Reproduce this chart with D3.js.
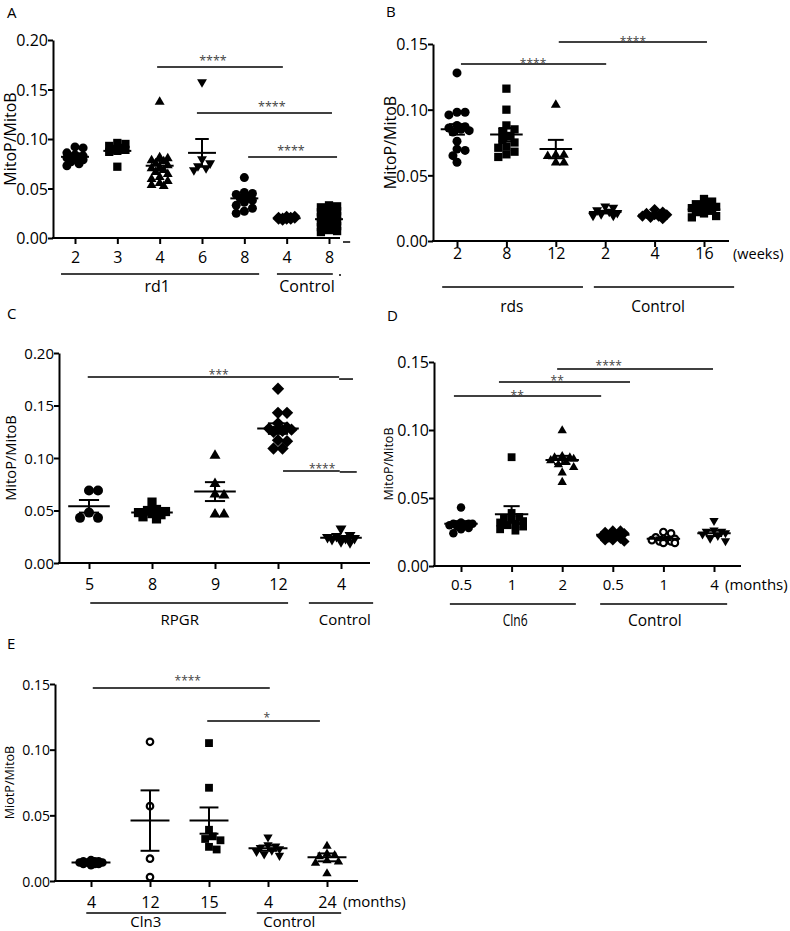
<!DOCTYPE html>
<html><head><meta charset="utf-8">
<script src="https://cdn.jsdelivr.net/npm/d3@7"></script>
<style>body{margin:0;background:#fff}svg{display:block}text{font-family:"Open Sans",sans-serif}</style>
</head><body><svg id="c" width="790" height="931"></svg>
<script>
// ---------------- DATA ----------------
const A_categories = ["2","3","4","6","8","4","8"];
const A_symbols = ["circle","square","triangle","triangleDown","circle","diamond","square"];
const A_values = [
  [0.092,0.091,0.086,0.084,0.083,0.082,0.082,0.081,0.080,0.079,0.077,0.075,0.073],
  [0.096,0.095,0.093,0.091,0.090,0.089,0.088,0.087,0.072],
  [0.138,0.082,0.081,0.079,0.078,0.076,0.074,0.072,0.071,0.069,0.067,0.065,0.062,0.060,0.058,0.056,0.054,0.053],
  [0.157,0.079,0.075,0.072,0.070,0.068],
  [0.061,0.046,0.045,0.044,0.042,0.040,0.038,0.036,0.033,0.030,0.027,0.025],
  [0.022,0.022,0.021,0.021,0.020,0.020,0.020,0.019,0.019,0.019,0.018],
  [0.033,0.032,0.031,0.030,0.029,0.028,0.027,0.026,0.025,0.024,0.023,0.022,0.021,0.020,0.019,0.018,0.017,0.016,0.015,0.014,0.013,0.012,0.011,0.010,0.009,0.008,0.007,0.006]
];
const A_means = [0.082,0.088,0.073,0.086,0.040,0.020,0.019];
const A_sems  = [0.002,0.002,0.005,0.014,0.003,0.0005,0.001];
const A_yTicks = [0,0.05,0.10,0.15,0.20];
const A_groups = ["rd1","Control"];
const A_stars = ["****","****","****"];

const B_categories = ["2","8","12","2","4","16"];
const B_symbols = ["circle","square","triangle","triangleDown","diamond","square"];
const B_values = [
  [0.128,0.098,0.098,0.096,0.088,0.087,0.086,0.085,0.084,0.083,0.076,0.070,0.069,0.065,0.060],
  [0.116,0.100,0.088,0.085,0.083,0.080,0.077,0.075,0.072,0.071,0.068,0.066,0.064],
  [0.104,0.066,0.066,0.065,0.060,0.060],
  [0.026,0.025,0.023,0.022,0.021,0.020,0.019,0.019],
  [0.024,0.022,0.021,0.020,0.020,0.019,0.019,0.018,0.017],
  [0.032,0.030,0.028,0.027,0.026,0.025,0.025,0.024,0.023,0.022,0.021,0.019,0.018]
];
const B_means = [0.085,0.081,0.070,0.022,0.020,0.024];
const B_sems  = [0.004,0.005,0.007,0.001,0.001,0.001];
const B_yTicks = [0,0.05,0.10,0.15];
const B_groups = ["rds","Control"];
const B_stars = ["****","****"];

const C_categories = ["5","8","9","12","4"];
const C_symbols = ["circle","square","triangle","diamond","triangleDown"];
const C_values = [
  [0.069,0.069,0.048,0.043,0.043],
  [0.058,0.051,0.050,0.049,0.048,0.047,0.046,0.044,0.042],
  [0.103,0.076,0.066,0.065,0.047,0.047],
  [0.166,0.143,0.143,0.133,0.129,0.128,0.128,0.127,0.126,0.125,0.117,0.116,0.109,0.109],
  [0.032,0.026,0.025,0.024,0.023,0.023,0.022,0.020,0.019]
];
const C_means = [0.054,0.048,0.068,0.128,0.024];
const C_sems  = [0.006,0.002,0.009,0.005,0.001];
const C_yTicks = [0,0.05,0.10,0.15,0.20];
const C_groups = ["RPGR","Control"];
const C_stars = ["***","****"];

const D_categories = ["0.5","1","2","0.5","1","4"];
const D_symbols = ["circle","square","triangle","diamond","circleOpen","triangleDown"];
const D_values = [
  [0.043,0.032,0.031,0.031,0.031,0.030,0.030,0.029,0.028,0.027,0.024],
  [0.080,0.039,0.036,0.035,0.034,0.033,0.032,0.031,0.030,0.029,0.027,0.026],
  [0.100,0.081,0.080,0.080,0.079,0.078,0.077,0.075,0.073,0.069,0.062],
  [0.026,0.026,0.025,0.024,0.023,0.022,0.021,0.020,0.019,0.019,0.018],
  [0.025,0.024,0.021,0.020,0.020,0.019,0.019,0.018,0.018,0.017,0.017],
  [0.033,0.026,0.025,0.025,0.024,0.023,0.022,0.020,0.018]
];
const D_means = [0.031,0.038,0.078,0.023,0.020,0.024];
const D_sems  = [0.002,0.006,0.003,0.001,0.001,0.002];
const D_yTicks = [0,0.05,0.10,0.15];
const D_groups = ["Cln6","Control"];
const D_stars = ["**","**","****"];

const E_categories = ["4","12","15","4","24"];
const E_symbols = ["circle","circleOpen","square","triangleDown","triangle"];
const E_values = [
  [0.016,0.015,0.015,0.015,0.014,0.014,0.014,0.014,0.013,0.013,0.013,0.012],
  [0.106,0.057,0.017,0.003],
  [0.105,0.071,0.039,0.034,0.032,0.031,0.026,0.024],
  [0.033,0.027,0.026,0.025,0.024,0.023,0.022,0.020,0.019],
  [0.027,0.021,0.020,0.019,0.016,0.015,0.014,0.006]
];
const E_means = [0.014,0.046,0.046,0.025,0.018];
const E_sems  = [0.0005,0.023,0.010,0.002,0.003];
const E_yTicks = [0,0.05,0.10,0.15];
const E_groups = ["Cln3","Control"];
const E_stars = ["****","*"];

// --------------- LAYOUT ---------------
// spans / positions below are expressed in category-index units and data units
const layouts = [
 {title:"A", tx:7, ty:18, left:53, bottom:238, top:40, yMax:0.20, xFirst:75, xLast:329, right:340,
  size:9, yTickFont:16, tickFont:16, tickDy:19, yLabel:"MitoP/MitoB", yLabelX:10, yLabelFont:16,
  gLineDy:36, gLabelDy:48, gFont:16, gSpans:[[-0.33,4.35,1.94],[4.77,6.09,5.48]],
  brackets:[{x0:1.94,x1:4.91,y:0.1727,sx:3.26,dy:-2},{x0:2.88,x1:6.07,y:0.1263,sx:4.65,dy:-2},{x0:4.09,x1:6.19,y:0.0818,sx:5.10,dy:-2}],
  starFont:12.5, units:null, extras:true,
  data:{c:A_categories,s:A_symbols,v:A_values,m:A_means,e:A_sems,t:A_yTicks,g:A_groups,st:A_stars}},
 {title:"B", tx:386, ty:17, left:433, bottom:241, top:44, yMax:0.15, xFirst:457, xLast:704, right:729,
  size:9, yTickFont:16, tickFont:16, tickDy:12, yLabel:"MitoP/MitoB", yLabelX:390, yLabelFont:16,
  gLineDy:46, gLabelDy:65, gFont:15.5, gSpans:[[-0.30,2.55,1.11],[2.77,5.61,4.07]],
  brackets:[{x0:0.08,x1:3.02,y:0.1348,sx:1.54,dy:4},{x0:2.06,x1:5.06,y:0.1516,sx:3.56,dy:4}],
  starFont:12, units:{text:"(weeks)", x:733, dy:13, font:14.5},
  data:{c:B_categories,s:B_symbols,v:B_values,m:B_means,e:B_sems,t:B_yTicks,g:B_groups,st:B_stars}},
 {title:"C", tx:7, ty:319, left:59, bottom:563, top:353, yMax:0.20, xFirst:89, xLast:341, right:370,
  size:10, yTickFont:15, tickFont:16, tickDy:21, yLabel:"MitoP/MitoB", yLabelX:10, yLabelFont:14.7,
  gLineDy:40, gLabelDy:57, gFont:15, gSpans:[[0.02,3.16,1.44],[3.49,4.51,4.06]],
  brackets:[{x0:-0.02,x1:3.97,y:0.1771,sx:2.06,dy:2,tail:{x1:4.19,y:0.1752}},{x0:3.08,x1:3.98,y:0.0876,sx:3.70,dy:2,tail:{x1:4.25,y:0.0867}}],
  starFont:12, units:null,
  data:{c:C_categories,s:C_symbols,v:C_values,m:C_means,e:C_sems,t:C_yTicks,g:C_groups,st:C_stars}},
 {title:"D", tx:387, ty:321, left:434, bottom:566, top:362, yMax:0.15, xFirst:461, xLast:714, right:741,
  size:8.5, yTickFont:16, tickFont:15, tickDy:19, yLabel:"MitoP/MitoB", yLabelX:388, yLabelFont:12.5,
  gLineDy:38, gLabelDy:54, gFont:15.5, gSpans:[[-0.22,2.27,1.07],[2.75,5.26,3.83]],
  brackets:[{x0:-0.14,x1:2.77,y:0.125,sx:1.11,dy:3.5},{x0:0.75,x1:3.34,y:0.1353,sx:1.90,dy:3.5},{x0:1.90,x1:4.98,y:0.1449,sx:2.92,dy:1.5}],
  starFont:12, units:{text:"(months)", x:725, dy:19, font:15}, gTextLen:[25,null],
  data:{c:D_categories,s:D_symbols,v:D_values,m:D_means,e:D_sems,t:D_yTicks,g:D_groups,st:D_stars}},
 {title:"E", tx:7, ty:649, left:55, bottom:881, top:684, yMax:0.15, xFirst:91, xLast:327, right:358,
  size:8.5, yTickFont:14, tickFont:16, tickDy:21, yLabel:"MiotP/MitoB", yLabelX:9, yLabelFont:12.6,
  gLineDy:32, gLabelDy:41, gFont:15, gSpans:[[-0.08,2.29,0.93],[2.81,4.24,3.36]],
  brackets:[{x0:0.03,x1:3.03,y:0.147,sx:1.64,dy:-3},{x0:1.97,x1:3.88,y:0.1219,sx:2.98,dy:1}],
  starFont:12, units:{text:"(months)", x:343, dy:21, font:15},
  data:{c:E_categories,s:E_symbols,v:E_values,m:E_means,e:E_sems,t:E_yTicks,g:E_groups,st:E_stars}}
];

const svg = d3.select("#c");

function symPath(type, s) {
  if (type === "circle") { const r = s/2; return `M${r},0A${r},${r} 0 1,1 ${-r},0A${r},${r} 0 1,1 ${r},0Z`; }
  if (type === "circleOpen") { const r = s/2 - 1; return `M${r},0A${r},${r} 0 1,1 ${-r},0A${r},${r} 0 1,1 ${r},0Z`; }
  if (type === "square") { const h = s*0.46; return `M${-h},${-h}H${h}V${h}H${-h}Z`; }
  if (type === "diamond") { const d = s*0.62; return `M0,${-d}L${d},0L0,${d}L${-d},0Z`; }
  const w = s*1.1, hh = s*0.95, sg = type === "triangle" ? 1 : -1;
  return `M0,${-sg*hh*0.6}L${w/2},${sg*hh*0.4}L${-w/2},${sg*hh*0.4}Z`;
}

// deterministic column-scatter placement (no randomness)
function swarm(vals, y, cx, size, maxHalf) {
  const placed = [];
  const sorted = vals.slice().sort((a, b) => b - a);
  const minD = size * 0.85, unit = size * 0.45;
  for (const v of sorted) {
    const py = y(v);
    let chosen = null, best = 0, bestScore = -1;
    for (let k = 0; k < 60; k++) {
      const off = (k % 2 === 1 ? 1 : -1) * Math.ceil(k / 2) * unit;
      if (Math.abs(off) > maxHalf) break;
      let dmin = Infinity;
      for (const q of placed) { const d = Math.hypot(q.x - (cx + off), q.y - py); if (d < dmin) dmin = d; }
      if (dmin >= minD) { chosen = off; break; }
      if (dmin > bestScore) { bestScore = dmin; best = off; }
    }
    placed.push({x: cx + (chosen !== null ? chosen : best), y: py});
  }
  return placed;
}

layouts.forEach(L => {
  const D = L.data;
  const g = svg.append("g");
  const y = d3.scaleLinear().domain([0, L.yMax]).range([L.bottom, L.top]);
  const x = d3.scaleLinear().domain([0, D.c.length - 1]).range([L.xFirst, L.xLast]);
  const step = x(1) - x(0);

  // title
  g.append("text").attr("x", L.tx).attr("y", L.ty).attr("font-size", 15).text(L.title);

  // markers
  D.v.forEach((vals, i) => {
    const pts = swarm(vals, y, x(i), L.size, step * 0.25);
    const open = D.s[i] === "circleOpen";
    g.append("g").selectAll("path").data(pts).join("path")
      .attr("transform", p => `translate(${p.x},${p.y})`)
      .attr("d", symPath(D.s[i], L.size))
      .attr("fill", open ? "#fff" : "#000")
      .attr("stroke", open ? "#000" : "none")
      .attr("stroke-width", 2.2);
  });

  // mean and SEM
  const mg = g.append("g").attr("stroke", "#000").attr("stroke-width", 2);
  D.m.forEach((m, i) => {
    const cx = x(i), hw = step * 0.33, cw = step * 0.16, e = D.e[i];
    mg.append("line").attr("x1", cx - hw).attr("x2", cx + hw).attr("y1", y(m)).attr("y2", y(m));
    mg.append("line").attr("x1", cx).attr("x2", cx).attr("y1", y(m - e)).attr("y2", y(m + e));
    [m - e, m + e].forEach(v => mg.append("line").attr("x1", cx - cw).attr("x2", cx + cw).attr("y1", y(v)).attr("y2", y(v)));
  });

  // y axis
  const ya = g.append("g").attr("transform", `translate(${L.left},0)`)
    .call(d3.axisLeft(y).tickValues(D.t).tickFormat(d3.format(".2f")).tickSize(5).tickSizeOuter(0));
  ya.attr("font-family", "Open Sans").attr("font-size", L.yTickFont);
  ya.select(".domain").attr("stroke-width", 2);
  ya.selectAll(".tick line").attr("stroke-width", 2);
  ya.selectAll(".tick text").attr("x", -5).attr("dy", "0.36em");

  // x axis
  g.append("line").attr("x1", L.left - 1).attr("x2", L.right).attr("y1", L.bottom).attr("y2", L.bottom)
    .attr("stroke", "#000").attr("stroke-width", 2);
  const xa = g.append("g").attr("transform", `translate(0,${L.bottom})`)
    .call(d3.axisBottom(x).tickValues(d3.range(D.c.length)).tickFormat(i => D.c[i]).tickSize(6).tickSizeOuter(0));
  xa.attr("font-family", "Open Sans").attr("font-size", L.tickFont);
  xa.select(".domain").remove();
  xa.selectAll(".tick line").attr("stroke-width", 2);
  xa.selectAll(".tick text").attr("y", L.tickDy).attr("dy", "0.36em");

  if (L.extras) {
    g.append("line").attr("x1", x(6.33)).attr("x2", x(6.5)).attr("y1", L.bottom + 4).attr("y2", L.bottom + 4)
      .attr("stroke", "#000").attr("stroke-width", 1.5);
    g.append("circle").attr("cx", x(6.26)).attr("cy", L.bottom + 37).attr("r", 1).attr("fill", "#000");
  }

  if (L.units) g.append("text").attr("x", L.units.x).attr("y", L.bottom + L.units.dy).attr("dy", "0.36em")
    .attr("font-size", L.units.font).text(L.units.text);

  // y label
  g.append("text").attr("transform", `translate(${L.yLabelX},${(L.top + L.bottom) / 2}) rotate(-90)`)
    .attr("text-anchor", "middle").attr("dominant-baseline", "central").attr("font-size", L.yLabelFont).text(L.yLabel);

  // group lines & labels
  L.gSpans.forEach((sp, j) => {
    g.append("line").attr("x1", x(sp[0])).attr("x2", x(sp[1])).attr("y1", L.bottom + L.gLineDy).attr("y2", L.bottom + L.gLineDy)
      .attr("stroke", "#000").attr("stroke-width", 1.5);
    const t = g.append("text").attr("x", x(sp[2])).attr("y", L.bottom + L.gLabelDy).attr("dy", "0.36em")
      .attr("text-anchor", "middle").attr("font-size", L.gFont).text(D.g[j]);
    if (L.gTextLen && L.gTextLen[j]) t.attr("textLength", L.gTextLen[j]).attr("lengthAdjust", "spacingAndGlyphs");
  });

  // significance brackets
  L.brackets.forEach((b, j) => {
    g.append("line").attr("x1", x(b.x0)).attr("x2", x(b.x1)).attr("y1", y(b.y)).attr("y2", y(b.y))
      .attr("stroke", "#000").attr("stroke-width", 1.5);
    if (b.tail) g.append("line").attr("x1", x(b.x1)).attr("x2", x(b.tail.x1)).attr("y1", y(b.tail.y)).attr("y2", y(b.tail.y))
      .attr("stroke", "#000").attr("stroke-width", 1.5);
    g.append("text").attr("x", x(b.sx)).attr("y", y(b.y) + b.dy).attr("text-anchor", "middle")
      .attr("font-size", L.starFont).attr("fill", "#444").text(D.st[j]);
  });
});
</script></body></html>
